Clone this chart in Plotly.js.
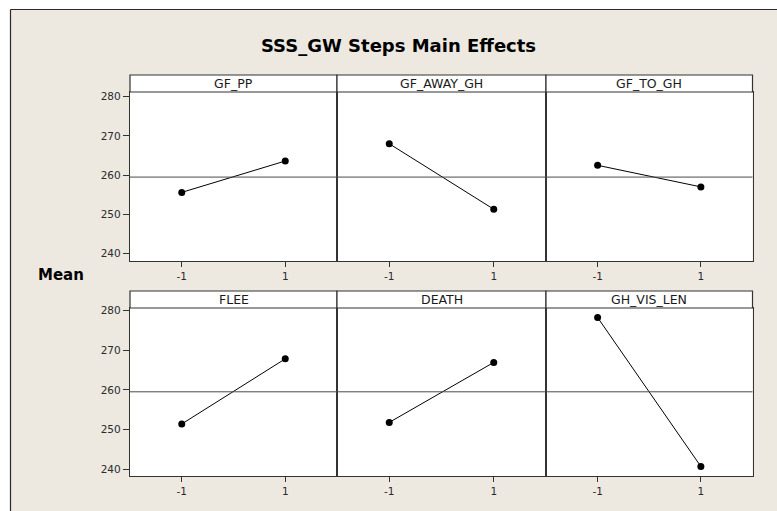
<!DOCTYPE html>
<html>
<head>
<meta charset="utf-8">
<script src="https://cdn.plot.ly/plotly-3.0.1.min.js"></script>
<style>
  html, body { margin: 0; padding: 0; background: #ffffff; }
  #chart { width: 777px; height: 511px; }
</style>
</head>
<body>
<div id="chart"></div>
<script>
// ---- Data ----
const chartTitle = "SSS_GW Steps Main Effects";
const yTitle = "Mean";
const factors = ["GF_PP", "GF_AWAY_GH", "GF_TO_GH", "FLEE", "DEATH", "GH_VIS_LEN"];
const levels = [-1, 1];
const levelLabels = ["-1", "1"];
const gfPP = [255.6, 263.6];
const gfAwayGH = [268.0, 251.3];
const gfToGH = [262.5, 257.0];
const flee = [251.4, 267.8];
const death = [251.8, 266.9];
const ghVisLen = [278.2, 240.7];
const grandMean = 259.5;
const yTickVals = [240, 250, 260, 270, 280];
const yTickText = ["240", "250", "260", "270", "280"];

const seriesList = [gfPP, gfAwayGH, gfToGH, flee, death, ghVisLen];

// ---- Layout geometry (pixels) ----
const W = 777, H = 511;
const colPx = [[130, 337], [337, 546], [546, 752.5]];
const rowPx = [
  { top: 92, bottom: 261, stripTop: 75, range: [238.1, 281.2] },
  { top: 308, bottom: 476, stripTop: 291, range: [238.3, 280.6] }
];
const px = x => x / W;
const py = y => 1 - y / H;

const axisColor = "#333333";
const tickFont = { family: "DejaVu Sans, Verdana, sans-serif", size: 10.5, color: "#2b2b2b" };

const traces = [];
const layout = {
  width: W, height: H,
  margin: { l: 0, r: 0, t: 0, b: 0 },
  paper_bgcolor: "#EDE9E1",
  plot_bgcolor: "#ffffff",
  showlegend: false,
  title: {
    text: "<b>" + chartTitle + "</b>",
    font: { family: "DejaVu Sans, Verdana, sans-serif", size: 18, color: "#000000" },
    x: px(398.5), xref: "paper", xanchor: "center",
    y: py(46), yref: "paper", yanchor: "middle"
  },
  shapes: [
    // white margin outside the frame (top and left)
    { type: "rect", xref: "paper", yref: "paper", layer: "above",
      x0: 0, x1: 1, y0: py(9.5), y1: 1, fillcolor: "#ffffff", line: { width: 0 } },
    { type: "rect", xref: "paper", yref: "paper", layer: "above",
      x0: 0, x1: px(10.5), y0: 0, y1: 1, fillcolor: "#ffffff", line: { width: 0 } },
    // frame border lines
    { type: "line", xref: "paper", yref: "paper", layer: "above",
      x0: px(10.5), x1: 1, y0: py(9.5), y1: py(9.5), line: { color: "#2a2a2a", width: 1.2 } },
    { type: "line", xref: "paper", yref: "paper", layer: "above",
      x0: px(10.5), x1: px(10.5), y0: 0, y1: py(9.5), line: { color: "#2a2a2a", width: 1.2 } }
  ],
  annotations: [
    { text: "<b>" + yTitle + "</b>", xref: "paper", yref: "paper",
      x: px(61), y: py(275), xanchor: "center", yanchor: "middle", showarrow: false,
      font: { family: "DejaVu Sans, Verdana, sans-serif", size: 15, color: "#000000" } }
  ]
};

factors.forEach((name, i) => {
  const r = Math.floor(i / 3), c = i % 3;
  const idx = i === 0 ? "" : String(i + 1);
  const xName = "x" + idx, yName = "y" + idx;
  const row = rowPx[r], col = colPx[c];

  traces.push({
    type: "scatter", mode: "lines+markers",
    x: levels, y: seriesList[i],
    xaxis: xName, yaxis: yName,
    line: { color: "#000000", width: 1 },
    marker: { color: "#000000", size: 7 },
    hoverinfo: "skip"
  });

  layout["xaxis" + idx] = {
    domain: [px(col[0]), px(col[1])],
    anchor: yName,
    range: [-2, 2],
    tickvals: levels, ticktext: levelLabels,
    ticks: "outside", ticklen: 5, tickwidth: 1, tickcolor: axisColor,
    tickfont: tickFont,
    showgrid: false, zeroline: false,
    showline: true, mirror: true, linecolor: axisColor, linewidth: 1.2,
    fixedrange: true
  };
  layout["yaxis" + idx] = {
    domain: [py(row.bottom), py(row.top)],
    anchor: xName,
    range: row.range,
    tickvals: yTickVals, ticktext: yTickText,
    ticks: c === 0 ? "outside" : "",
    showticklabels: c === 0,
    ticklen: 6, tickwidth: 1, tickcolor: axisColor,
    tickfont: tickFont,
    showgrid: false, zeroline: false,
    showline: true, mirror: true, linecolor: axisColor, linewidth: 1.2,
    fixedrange: true
  };

  // strip header
  layout.shapes.push({
    type: "rect", xref: "paper", yref: "paper",
    x0: px(col[0]), x1: px(col[1]), y0: py(row.top), y1: py(row.stripTop),
    fillcolor: "#ffffff", line: { color: axisColor, width: 1.2 }
  });
  layout.annotations.push({
    text: name, xref: "paper", yref: "paper",
    x: px((col[0] + col[1]) / 2), y: py((row.top + row.stripTop) / 2),
    xanchor: "center", yanchor: "middle", showarrow: false,
    font: { family: "DejaVu Sans, Verdana, sans-serif", size: 12.5, color: "#1a1a1a" }
  });

  // grand mean reference line
  layout.shapes.push({
    type: "line", xref: xName + " domain", yref: yName,
    x0: 0, x1: 1, y0: grandMean, y1: grandMean,
    line: { color: "#4a4a4a", width: 1 }
  });
});

Plotly.newPlot("chart", traces, layout, { staticPlot: true, displayModeBar: false });
</script>
</body>
</html>
